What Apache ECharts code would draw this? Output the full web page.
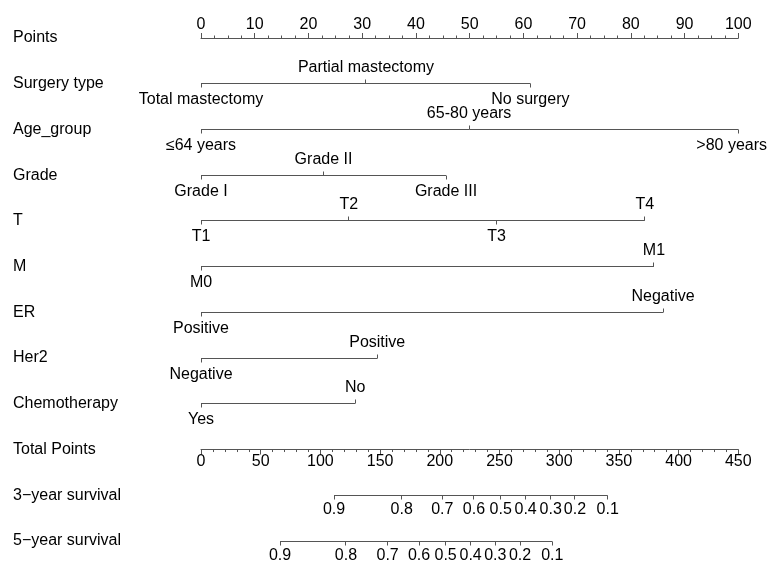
<!DOCTYPE html>
<html>
<head>
<meta charset="utf-8">
<script src="https://cdn.jsdelivr.net/npm/echarts@6/dist/echarts.min.js"></script>
<style>
  html, body { margin: 0; padding: 0; background: #fff; }
  #chart { width: 769px; height: 562px; }
</style>
</head>
<body>
<div id="chart"></div>
<script>
// ---------- data ----------
const rowNames = ['Points', 'Surgery type', 'Age_group', 'Grade', 'T', 'M', 'ER', 'Her2',
  'Chemotherapy', 'Total Points', '3\u2212year survival', '5\u2212year survival'];

const pointsMax = 100, pointsStep = 10;
const totalMax = 450, totalStep = 50;

const surgeryLevels = ['Total mastectomy', 'Partial mastectomy', 'No surgery'];
const surgeryPoints = [0, 30.7, 61.3];
const ageLevels = ['\u226464 years', '65-80 years', '>80 years'];
const agePoints = [0, 49.9, 100];
const gradeLevels = ['Grade I', 'Grade II', 'Grade III'];
const gradePoints = [0, 22.8, 45.6];
const tLevels = ['T1', 'T2', 'T3', 'T4'];
const tPoints = [0, 27.5, 55.0, 82.6];
const mLevels = ['M0', 'M1'];
const mPoints = [0, 84.3];
const erLevels = ['Positive', 'Negative'];
const erPoints = [0, 86.0];
const her2Levels = ['Negative', 'Positive'];
const her2Points = [0, 32.8];
const chemoLevels = ['Yes', 'No'];
const chemoPoints = [0, 28.7];

const survProbs = [0.9, 0.8, 0.7, 0.6, 0.5, 0.4, 0.3, 0.2, 0.1];
const surv3Total = [111.4, 168.1, 202.1, 228.6, 251.0, 271.9, 292.9, 313.2, 340.6];
const surv5Total = [66.2, 121.4, 156.3, 182.6, 204.9, 225.8, 246.5, 267.2, 294.2];

// ---------- build ----------
const variables = [
  { levels: surgeryLevels, points: surgeryPoints },
  { levels: ageLevels, points: agePoints },
  { levels: gradeLevels, points: gradePoints },
  { levels: tLevels, points: tPoints },
  { levels: mLevels, points: mPoints },
  { levels: erLevels, points: erPoints },
  { levels: her2Levels, points: her2Points },
  { levels: chemoLevels, points: chemoPoints }
];
const survScales = [
  { probs: survProbs, total: surv3Total },
  { probs: survProbs, total: surv5Total }
];

const FONT = '"Liberation Sans", Arial, Helvetica, sans-serif';
const FS = 16;
const LINE = '#555';
const TEXT = '#000';
const W = 769;

const mctx = document.createElement('canvas').getContext('2d');
mctx.font = FS + 'px ' + FONT;
function textW(s) { return mctx.measureText(s).width; }

function crisp(v) { return Math.round(v - 0.5) + 0.5; }

function renderVar(params, api) {
  const v = variables[params.dataIndex];
  const row = api.value(1);
  const xs = v.points.map(p => api.coord([p, row])[0]);
  const y = crisp(api.coord([0, row])[1]);
  const minX = Math.min.apply(null, xs), maxX = Math.max.apply(null, xs);
  const children = [{
    type: 'line', shape: { x1: minX, y1: y, x2: maxX, y2: y },
    style: { stroke: LINE, lineWidth: 1 }
  }];
  const order = v.points.map((p, i) => i).sort((a, b) => v.points[a] - v.points[b]);
  order.forEach((idx, k) => {
    const above = k % 2 === 1;
    const x = crisp(xs[idx]);
    children.push({
      type: 'line', shape: { x1: x, y1: y, x2: x, y2: above ? y - 4 : y + 4 },
      style: { stroke: LINE, lineWidth: 1 }
    });
    const w = textW(v.levels[idx]);
    let cx = xs[idx];
    if (cx + w / 2 > W - 2) cx = W - 2 - w / 2;
    if (cx - w / 2 < 2) cx = 2 + w / 2;
    children.push({
      type: 'text',
      style: {
        text: v.levels[idx], x: cx, y: above ? y - 15.5 : y + 16.5,
        align: 'center', verticalAlign: 'middle',
        fontSize: FS, fontFamily: FONT, fill: TEXT
      }
    });
  });
  return { type: 'group', children: children };
}

function renderSurv(params, api) {
  const s = survScales[params.dataIndex];
  const row = api.value(1);
  const xs = s.total.map(t => api.coord([t, row])[0]);
  const y = crisp(api.coord([0, row])[1]);
  const children = [{
    type: 'line', shape: { x1: xs[0], y1: y, x2: xs[xs.length - 1], y2: y },
    style: { stroke: LINE, lineWidth: 1 }
  }];
  xs.forEach((x0, i) => {
    const x = crisp(x0);
    children.push({
      type: 'line', shape: { x1: x, y1: y, x2: x, y2: y + 4 },
      style: { stroke: LINE, lineWidth: 1 }
    });
    children.push({
      type: 'text',
      style: {
        text: String(s.probs[i]), x: x0, y: y + 14,
        align: 'center', verticalAlign: 'middle',
        fontSize: FS, fontFamily: FONT, fill: TEXT
      }
    });
  });
  return { type: 'group', children: children };
}

const chart = echarts.init(document.getElementById('chart'), null, { renderer: 'canvas' });
const GL = 201, GR = W - 738.3;
const TOP = 38, BOT = 541;
const rowH = (BOT - TOP) / (rowNames.length - 1);
const totalRowY = TOP + 9 * rowH;

chart.setOption({
  animation: false,
  backgroundColor: '#fff',
  textStyle: { fontFamily: FONT },
  grid: [
    { left: GL, right: GR, top: TOP, height: BOT - TOP },
    { left: GL, right: GR, top: totalRowY, height: BOT - totalRowY }
  ],
  xAxis: [
    {
      gridIndex: 0, type: 'value', min: 0, max: pointsMax, interval: pointsStep, position: 'top',
      axisLine: { show: true, lineStyle: { color: LINE, width: 1 } },
      axisTick: { show: true, length: 5, inside: false, lineStyle: { color: LINE } },
      minorTick: { show: true, splitNumber: 4, length: 2.5, lineStyle: { color: LINE } },
      axisLabel: { fontSize: FS, color: TEXT, margin: 5, fontFamily: FONT },
      splitLine: { show: false }
    },
    {
      gridIndex: 1, type: 'value', min: 0, max: totalMax, interval: totalStep, position: 'top',
      axisLine: { show: true, lineStyle: { color: LINE, width: 1 } },
      axisTick: { show: true, length: 5, inside: true, lineStyle: { color: LINE } },
      minorTick: { show: true, splitNumber: 5, length: 2.5, lineStyle: { color: LINE } },
      axisLabel: { inside: true, fontSize: FS, color: TEXT, margin: 4, fontFamily: FONT },
      splitLine: { show: false }
    }
  ],
  yAxis: [
    {
      gridIndex: 0, type: 'category', data: rowNames, inverse: true, boundaryGap: false,
      axisLine: { show: false }, axisTick: { show: false }, splitLine: { show: false },
      axisLabel: { interval: 0, align: 'left', margin: GL - 13, fontSize: FS, color: TEXT, fontFamily: FONT }
    },
    {
      gridIndex: 1, type: 'category', data: rowNames.slice(9), inverse: true, boundaryGap: false,
      show: false
    }
  ],
  series: [
    {
      type: 'custom', xAxisIndex: 0, yAxisIndex: 0, clip: false, silent: true,
      renderItem: renderVar,
      encode: { x: 0, y: 1 },
      data: variables.map((v, i) => [0, i + 1])
    },
    {
      type: 'custom', xAxisIndex: 1, yAxisIndex: 1, clip: false, silent: true,
      renderItem: renderSurv,
      encode: { x: 0, y: 1 },
      data: survScales.map((s, i) => [0, i + 1])
    }
  ]
});
</script>
</body>
</html>
